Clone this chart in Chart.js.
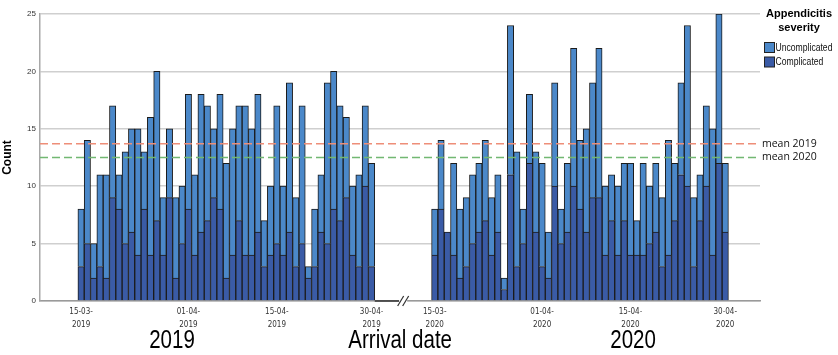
<!DOCTYPE html>
<html>
<head>
<meta charset="utf-8">
<script src="https://cdn.jsdelivr.net/npm/chart.js@4.4.1/dist/chart.umd.min.js"></script>
<style>
  html, body { margin: 0; padding: 0; background: #fff; }
</style>
</head>
<body>
<canvas id="myChart" width="838" height="355"></canvas>
<script>
// daily counts, 15 March - 30 April
const complicated2019 = [3, 5, 2, 3, 2, 9, 8, 5, 6, 4, 8, 4, 7, 4, 9, 2, 5, 8, 4, 6, 7, 9, 8, 2, 4, 7, 4, 4, 6, 3, 4, 5, 4, 6, 3, 5, 2, 3, 6, 5, 8, 7, 9, 4, 3, 10, 3];
const uncomplicated2019 = [5, 9, 3, 8, 9, 8, 3, 8, 9, 11, 5, 12, 13, 5, 6, 7, 5, 10, 7, 12, 10, 6, 10, 10, 11, 10, 13, 11, 12, 4, 6, 12, 6, 13, 6, 12, 1, 5, 5, 14, 12, 10, 7, 6, 8, 7, 9];
const complicated2020 = [4, 8, 6, 4, 2, 3, 5, 6, 7, 4, 6, 1, 11, 3, 5, 12, 6, 3, 2, 10, 5, 6, 10, 8, 6, 9, 9, 4, 7, 4, 7, 4, 4, 4, 5, 6, 3, 4, 7, 11, 10, 3, 7, 10, 4, 12, 6];
const uncomplicated2020 = [4, 6, 0, 8, 6, 6, 6, 6, 7, 5, 5, 1, 13, 10, 3, 6, 7, 9, 4, 9, 3, 6, 12, 6, 9, 10, 13, 6, 4, 6, 5, 8, 3, 8, 5, 6, 6, 10, 5, 8, 14, 6, 4, 7, 11, 13, 6];

const meanLines = [13.7, 12.5];
const meanLabels = ["mean 2019", "mean 2020"];
const meanColors = ["#ee8e78", "#72b872"];

const years = ["2019", "2020"];
const tickDates = ["15-03-2019", "01-04-2019", "15-04-2019", "30-04-2019",
                   "15-03-2020", "01-04-2020", "15-04-2020", "30-04-2020"];
const yTicks = [0, 5, 10, 15, 20, 25];

// empty categories before, between and after the two periods
const padBefore = 6, padGap = 9, padAfter = 5;

function daysOf(year) {
  let out = [];
  for (let d = 15; d <= 31; d++) out.push(String(d).padStart(2, "0") + "-03-" + year);
  for (let d = 1; d <= 30; d++) out.push(String(d).padStart(2, "0") + "-04-" + year);
  return out;
}
function blanks(n, v) { return Array(n).fill(v); }

const labels = [].concat(blanks(padBefore, ""), daysOf(years[0]), blanks(padGap, ""), daysOf(years[1]), blanks(padAfter, ""));
const compData = [].concat(blanks(padBefore, null), complicated2019, blanks(padGap, null), complicated2020, blanks(padAfter, null));
const uncompData = [].concat(blanks(padBefore, null), uncomplicated2019, blanks(padGap, null), uncomplicated2020, blanks(padAfter, null));

const sans = "'Liberation Sans', Arial, sans-serif";
const condensed = "'DejaVu Sans Condensed', 'Liberation Sans', sans-serif";
const squeeze = 0.82; // Arial Narrow look from Liberation Sans

const darkBlue = "#3a5ba6";
const lightBlue = "#4b88c9";

function narrowText(ctx, text, x, y, align) {
  ctx.save();
  ctx.translate(x, y);
  ctx.scale(squeeze, 1);
  ctx.textAlign = align;
  ctx.fillText(text, 0, 0);
  ctx.restore();
}

const extras = {
  id: "extras",
  afterDatasetsDraw(chart) {
    const { ctx, chartArea: a, scales: { x, y } } = chart;
    ctx.save();
    // mean lines
    meanLines.forEach((m, i) => {
      const py = y.getPixelForValue(m);
      ctx.strokeStyle = meanColors[i];
      ctx.lineWidth = 1.5;
      ctx.setLineDash([8, 4]);
      ctx.beginPath();
      ctx.moveTo(a.left, py);
      ctx.lineTo(a.right, py);
      ctx.stroke();
      ctx.setLineDash([]);
      ctx.fillStyle = "#111";
      ctx.font = "10.5px 'Open Sans', sans-serif";
      ctx.textBaseline = "middle";
      ctx.textAlign = "left";
      ctx.fillText(meanLabels[i], a.right + 2, py);
    });

    // axis break
    const w = x.getPixelForValue(1) - x.getPixelForValue(0);
    const end2019 = x.getPixelForValue(padBefore + complicated2019.length - 1) + w / 2;
    const mid = x.getPixelForValue(padBefore + complicated2019.length + (padGap - 1) / 2);
    const base = y.getPixelForValue(0);
    ctx.strokeStyle = "#333";
    ctx.lineWidth = 1.5;
    ctx.beginPath();
    ctx.moveTo(end2019, base);
    ctx.lineTo(mid - 4, base);
    ctx.stroke();
    ctx.fillStyle = "#fff";
    ctx.fillRect(mid - 4, base - 1, 8, 3);
    ctx.lineWidth = 1.2;
    [-2.5, 2.5].forEach(off => {
      ctx.beginPath();
      ctx.moveTo(mid + off - 3, base + 5);
      ctx.lineTo(mid + off + 3, base - 5);
      ctx.stroke();
    });

    // big labels under the axis
    ctx.fillStyle = "#000";
    ctx.font = "25px " + sans;
    ctx.textBaseline = "middle";
    const ly = a.bottom + 40;
    narrowText(ctx, years[0], x.getPixelForValue(20.4), ly, "center");
    narrowText(ctx, "Arrival date", mid - 3, ly, "center");
    narrowText(ctx, years[1], x.getPixelForValue(93.4), ly, "center");

    // legend
    const lx = a.right + 39;
    ctx.font = "bold 11px " + sans;
    ctx.textAlign = "center";
    ctx.fillText("Appendicitis", lx, 14);
    ctx.fillText("severity", lx, 28);
    const items = [["Uncomplicated", lightBlue], ["Complicated", darkBlue]];
    items.forEach((it, i) => {
      const iy = 42 + i * 14.5;
      ctx.fillStyle = it[1];
      ctx.fillRect(a.right + 4.5, iy + 0.5, 10, 10);
      ctx.strokeStyle = "#222";
      ctx.lineWidth = 1;
      ctx.strokeRect(a.right + 4.5, iy + 0.5, 10, 10);
      ctx.fillStyle = "#111";
      ctx.font = "10.5px " + sans;
      narrowText(ctx, it[0], a.right + 15.5, iy + 6, "left");
    });
    ctx.restore();
  }
};

let charts = document.getElementById("myChart").getContext("2d");

let barChart = new Chart(charts, {
  type: "bar",
  data: {
    labels: labels,
    datasets: [
      {
        label: "Complicated",
        data: compData,
        backgroundColor: darkBlue,
        borderColor: "#1b1b1b",
        borderWidth: 1,
        barPercentage: 1,
        categoryPercentage: 1,
      },
      {
        label: "Uncomplicated",
        data: uncompData,
        backgroundColor: lightBlue,
        borderColor: "#1b1b1b",
        borderWidth: 1,
        barPercentage: 1,
        categoryPercentage: 1,
      },
    ],
  },
  options: {
    responsive: false,
    animation: false,
    layout: { padding: { top: 14, right: 78, bottom: 0, left: 0 } },
    plugins: {
      legend: { display: false },
      tooltip: { enabled: false },
    },
    scales: {
      x: {
        stacked: true,
        afterFit(scale) { scale.height = 54; },
        grid: { display: false, drawTicks: false },
        border: { color: "#9a9a9a", width: 1.5 },
        ticks: {
          autoSkip: false,
          maxRotation: 0,
          minRotation: 0,
          padding: 5,
          color: "#333",
          font: { family: condensed, size: 8, lineHeight: 1.6 },
          callback(value) {
            const lab = this.getLabelForValue(value);
            return tickDates.includes(lab) ? [lab.slice(0, 6), lab.slice(6)] : "";
          },
        },
      },
      y: {
        stacked: true,
        min: yTicks[0],
        max: yTicks[yTicks.length - 1],
        afterFit(scale) { scale.width = 40; },
        afterBuildTicks(scale) { scale.ticks = yTicks.map(v => ({ value: v })); },
        grid: { color: "#cfcfcf", lineWidth: 1.5, drawTicks: false },
        border: { color: "#a8a8a8", width: 1.5 },
        title: {
          display: true,
          text: "Count",
          color: "#000",
          font: { family: sans, size: 12, weight: "bold" },
          padding: { top: 0, bottom: 2 },
        },
        ticks: {
          padding: 4,
          color: "#333",
          font: { family: sans, size: 8 },
        },
      },
    },
  },
  plugins: [extras],
});
</script>
</body>
</html>
